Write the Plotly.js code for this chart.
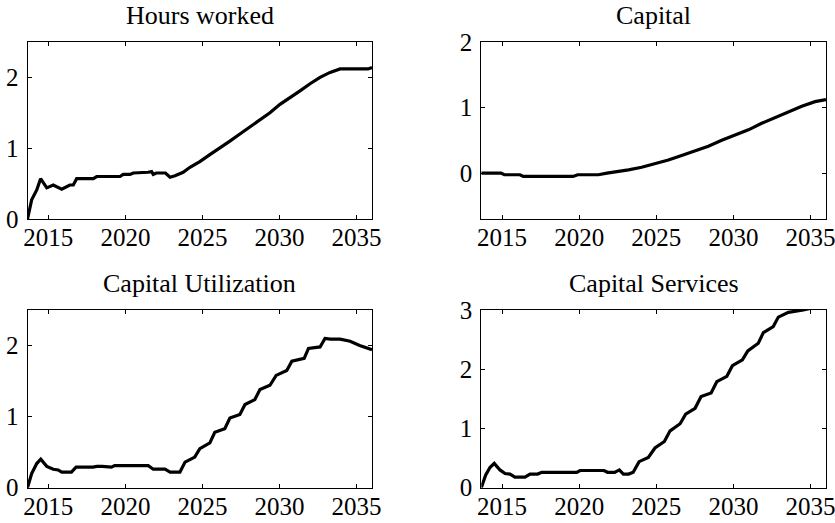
<!DOCTYPE html>
<html>
<head>
<meta charset="utf-8">
<script src="https://cdn.plot.ly/plotly-3.0.1.min.js"></script>
<style>html,body{margin:0;padding:0;background:#fff;}#chart{width:835px;height:523px;}</style>
</head>
<body>
<div id="chart"></div>
<script>
// ---- Data ----
const panelTitles = ["Hours worked", "Capital", "Capital Utilization", "Capital Services"];
const xTickVals = [2015, 2020, 2025, 2030, 2035];

const hoursX = [2013.65, 2013.92, 2014.25, 2014.5, 2014.9, 2015.32, 2015.87, 2016.4, 2016.62, 2016.84, 2017.92, 2018.14, 2019.65, 2019.86, 2020.3, 2020.51, 2021.48, 2021.7, 2021.81, 2022.0, 2022.6, 2022.9, 2023.22, 2023.75, 2024.19, 2024.83, 2025.48, 2026.13, 2026.78, 2027.43, 2028.08, 2028.73, 2029.38, 2030.03, 2030.68, 2031.33, 2031.98, 2032.63, 2033.28, 2033.93, 2035.75, 2036.0];
const hoursY = [0.0, 0.27, 0.41, 0.57, 0.44, 0.48, 0.42, 0.48, 0.48, 0.57, 0.57, 0.60, 0.60, 0.63, 0.63, 0.65, 0.66, 0.67, 0.63, 0.65, 0.65, 0.59, 0.61, 0.66, 0.73, 0.81, 0.91, 1.00, 1.10, 1.20, 1.30, 1.41, 1.50, 1.62, 1.71, 1.81, 1.91, 2.00, 2.07, 2.12, 2.12, 2.14];

const capitalX = [2013.65, 2014.93, 2015.14, 2016.16, 2016.37, 2019.6, 2019.9, 2021.24, 2021.8, 2022.32, 2023.19, 2024.05, 2024.91, 2025.78, 2026.64, 2027.51, 2028.37, 2029.24, 2030.1, 2030.97, 2031.83, 2032.7, 2033.56, 2034.43, 2035.29, 2036.0];
const capitalY = [0.0, 0.0, -0.025, -0.025, -0.05, -0.05, -0.025, -0.025, 0.0, 0.015, 0.05, 0.09, 0.14, 0.20, 0.27, 0.34, 0.41, 0.50, 0.58, 0.66, 0.76, 0.85, 0.93, 1.02, 1.09, 1.12];

const utilX = [2013.65, 2013.92, 2014.25, 2014.51, 2014.9, 2015.32, 2015.64, 2015.87, 2016.5, 2016.8, 2017.9, 2018.14, 2018.5, 2018.8, 2019.1, 2019.3, 2021.48, 2021.81, 2022.57, 2022.9, 2023.54, 2023.87, 2024.5, 2024.83, 2025.48, 2025.8, 2026.45, 2026.78, 2027.43, 2027.76, 2028.4, 2028.73, 2029.38, 2029.78, 2030.47, 2030.8, 2031.6, 2031.88, 2032.63, 2032.95, 2033.3, 2033.93, 2034.58, 2035.2, 2035.66, 2036.0];
const utilY = [0.0, 0.20, 0.34, 0.40, 0.30, 0.26, 0.25, 0.22, 0.22, 0.29, 0.29, 0.30, 0.30, 0.29, 0.29, 0.31, 0.31, 0.26, 0.26, 0.22, 0.22, 0.36, 0.43, 0.55, 0.63, 0.78, 0.83, 0.98, 1.03, 1.17, 1.24, 1.38, 1.44, 1.58, 1.65, 1.78, 1.82, 1.96, 1.98, 2.10, 2.09, 2.09, 2.06, 2.00, 1.96, 1.94];

const servX = [2013.65, 2013.93, 2014.21, 2014.49, 2014.86, 2015.19, 2015.51, 2015.83, 2016.48, 2016.81, 2017.3, 2017.57, 2019.84, 2020.05, 2021.6, 2021.84, 2022.3, 2022.6, 2022.86, 2023.2, 2023.5, 2023.88, 2024.48, 2024.91, 2025.52, 2025.89, 2026.54, 2026.9, 2027.51, 2027.9, 2028.55, 2028.92, 2029.57, 2029.93, 2030.58, 2030.93, 2031.61, 2031.94, 2032.58, 2032.91, 2033.56, 2034.2, 2034.53, 2035.2, 2036.0];
const servY = [0.0, 0.21, 0.34, 0.41, 0.30, 0.24, 0.23, 0.18, 0.18, 0.23, 0.23, 0.26, 0.26, 0.29, 0.29, 0.26, 0.26, 0.30, 0.23, 0.23, 0.26, 0.44, 0.51, 0.67, 0.78, 0.96, 1.08, 1.24, 1.34, 1.54, 1.60, 1.79, 1.88, 2.06, 2.16, 2.31, 2.44, 2.62, 2.72, 2.88, 2.96, 2.98, 3.00, 3.04, 3.08];

const yRanges = [[0, 2.5], [-0.7, 2], [0, 2.5], [0, 3]];
const xRange = [2013.65, 2036];

// ---- Build chart ----
const seriesX = [hoursX, capitalX, utilX, servX];
const seriesY = [hoursY, capitalY, utilY, servY];
const W = 835, H = 523;
const colDom = [[27.5 / W, 372 / W], [481.3 / W, 826 / W]];
const rowDom = [[1 - 219 / H, 1 - 42 / H], [1 - 487.7 / H, 1 - 310 / H]];
const FONT = "Liberation Serif, Times New Roman, serif";

const data = [];
const layout = {
  width: W, height: H,
  margin: {l: 0, r: 0, t: 0, b: 0},
  paper_bgcolor: "#fff", plot_bgcolor: "#fff",
  showlegend: false,
  font: {family: FONT, size: 26, color: "#000"},
  annotations: []
};

for (let i = 0; i < 4; i++) {
  const r = Math.floor(i / 2), c = i % 2;
  const sx = i === 0 ? "" : String(i + 1);
  data.push({
    x: seriesX[i], y: seriesY[i],
    xaxis: "x" + sx, yaxis: "y" + sx,
    type: "scatter", mode: "lines",
    line: {color: "#000", width: 3.2},
    hoverinfo: "skip"
  });
  const common = {
    showline: true, mirror: "allticks", linecolor: "#000", linewidth: 1,
    ticks: "inside", ticklen: 4, tickwidth: 1, tickcolor: "#000",
    showgrid: false, zeroline: false, fixedrange: true,
    ticklabeloverflow: "allow",
    tickfont: {family: FONT, size: 25, color: "#000"}
  };
  layout["xaxis" + sx] = Object.assign({}, common, {
    domain: colDom[c], range: xRange, anchor: "y" + sx,
    tickmode: "array", tickvals: xTickVals, ticktext: xTickVals.map(String),
    ticklabelstandoff: -4
  });
  layout["yaxis" + sx] = Object.assign({}, common, {
    domain: rowDom[r], range: yRanges[i], anchor: "x" + sx,
    dtick: 1, tick0: 0, ticklabelstandoff: 3
  });
  layout.annotations.push({
    text: panelTitles[i], showarrow: false,
    xref: "paper", yref: "paper",
    x: (colDom[c][0] + colDom[c][1]) / 2, y: rowDom[r][1],
    xanchor: "center", yanchor: "bottom", yshift: 10,
    font: {family: FONT, size: 26, color: "#000"}
  });
}

Plotly.newPlot("chart", data, layout, {staticPlot: true, displayModeBar: false});
</script>
</body>
</html>
